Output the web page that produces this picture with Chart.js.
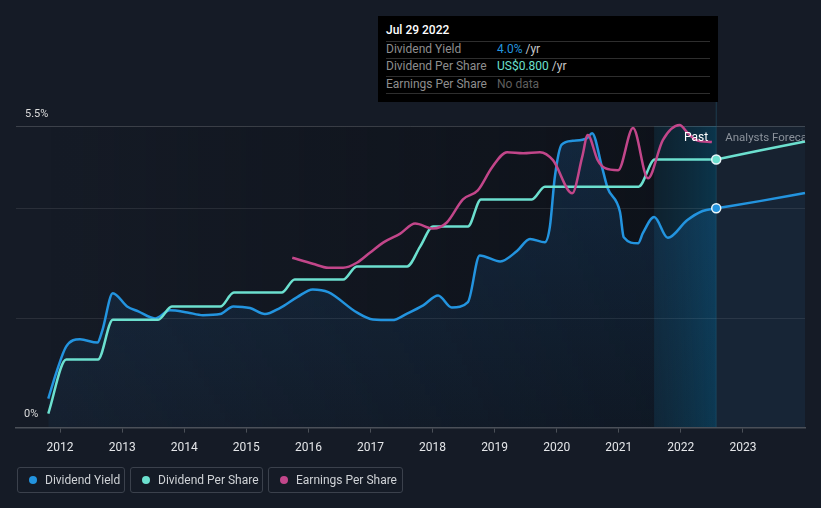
<!DOCTYPE html>
<html>
<head>
<meta charset="utf-8">
<script src="https://cdn.jsdelivr.net/npm/chart.js@4.4.1/dist/chart.umd.min.js"></script>
<style>
  html, body { margin:0; padding:0; background:#151b26; }
  #wrap { position:relative; width:821px; height:508px; font-family:Roboto, "Noto Sans", sans-serif; overflow:hidden; }
  #chart { position:absolute; left:0; top:0; }
  .tip { position:absolute; left:378px; top:16px; width:340px; height:86px; background:#000; }
  .tip .t { position:absolute; left:8px; top:7px; font-size:12px; color:#fff; font-weight:500; }
  .tip .sep { position:absolute; left:8px; width:324px; height:1px; background:#2e2e2e; }
  .tip .row { position:absolute; left:8px; font-size:12px; color:#8e8e8e; white-space:nowrap; }
  .tip .val { position:absolute; left:119px; font-size:12px; white-space:nowrap; }
  .legend { position:absolute; top:467px; height:26px; border:1px solid #3b414c; border-radius:3px; box-sizing:border-box;
            font-size:12px; color:#cfd2d6; line-height:24px; padding-left:27px; }
  .legend i { position:absolute; left:11px; top:8px; width:8px; height:8px; border-radius:50%; }
</style>
</head>
<body>
<div id="wrap">
  <canvas id="chart" width="821" height="508"></canvas>
  <div class="tip">
    <div class="t">Jul 29 2022</div>
    <div class="sep" style="top:25px"></div>
    <div class="row" style="top:26px">Dividend Yield</div>
    <div class="val" style="top:26px"><span style="color:#2394df">4.0%</span><span style="color:#c8c8c8"> /yr</span></div>
    <div class="sep" style="top:42px"></div>
    <div class="row" style="top:43px">Dividend Per Share</div>
    <div class="val" style="top:43px"><span style="color:#6ce0cf">US$0.800</span><span style="color:#c8c8c8"> /yr</span></div>
    <div class="sep" style="top:60px"></div>
    <div class="row" style="top:61px">Earnings Per Share</div>
    <div class="val" style="top:61px;color:#5f5f5f">No data</div>
    <div class="sep" style="top:77px"></div>
  </div>
  <div class="legend" style="left:17px;width:108px"><i style="background:#2394df"></i>Dividend Yield</div>
  <div class="legend" style="left:130px;width:133px"><i style="background:#6ce0cf"></i>Dividend Per Share</div>
  <div class="legend" style="left:268px;width:135px"><i style="background:#c2468a"></i>Earnings Per Share</div>
</div>
<script>
// dividend yield (%), past
const yieldYears = [2011.81, 2011.95, 2012.10, 2012.32, 2012.60, 2012.68, 2012.85, 2013.08, 2013.26, 2013.53,
  2013.77, 2014.05, 2014.30, 2014.58, 2014.79, 2015.06, 2015.30, 2015.54, 2015.82, 2016.07,
  2016.32, 2016.78, 2017.04, 2017.35, 2017.59, 2017.85, 2018.09, 2018.31, 2018.57, 2018.76,
  2019.09, 2019.36, 2019.57, 2019.81, 2019.89, 2019.97, 2020.08, 2020.26, 2020.49, 2020.57,
  2020.73, 2020.82, 2021.02, 2021.08, 2021.31, 2021.39, 2021.57, 2021.79, 2022.10, 2022.35, 2022.57];
const yieldPct = [0.53, 1.04, 1.48, 1.61, 1.55, 1.77, 2.45, 2.21, 2.12, 1.99,
  2.14, 2.10, 2.05, 2.07, 2.21, 2.18, 2.07, 2.18, 2.38, 2.52,
  2.47, 2.10, 1.97, 1.96, 2.08, 2.23, 2.41, 2.19, 2.29, 3.14,
  3.03, 3.22, 3.44, 3.38, 3.66, 4.57, 5.16, 5.23, 5.28, 5.37,
  4.75, 4.37, 3.93, 3.47, 3.36, 3.55, 3.84, 3.46, 3.78, 3.95, 4.00];

// dividend per share (US$), past
const dpsYears = [2011.81, 2012.10, 2012.61, 2012.85, 2013.58, 2013.80, 2014.58, 2014.80, 2015.57, 2015.78,
  2016.56, 2016.78, 2017.59, 2017.80, 2018.01, 2018.57, 2018.78, 2019.60, 2019.81, 2021.32, 2021.58, 2022.57];
const dpsUsd = [0.042, 0.203, 0.203, 0.322, 0.322, 0.361, 0.361, 0.403, 0.403, 0.442,
  0.442, 0.481, 0.481, 0.54, 0.600, 0.600, 0.681, 0.681, 0.719, 0.719, 0.800, 0.800];

// analysts forecast
const fcYears = [2022.57, 2023.27, 2024.0];
const fcYield = [4.00, 4.13, 4.28];
const fcDps = [0.800, 0.827, 0.854];

// earnings per share
const epsYears = [2015.74, 2016.07, 2016.32, 2016.56, 2016.78, 2016.99, 2017.23, 2017.48, 2017.72, 2018.01,
  2018.23, 2018.49, 2018.73, 2018.96, 2019.20, 2019.46, 2019.73, 2019.94, 2020.25, 2020.41,
  2020.50, 2020.66, 2020.78, 2020.99, 2021.23, 2021.47, 2021.71, 2021.98, 2022.11, 2022.25, 2022.50];
const epsUsd = [1.69, 1.63, 1.59, 1.59, 1.64, 1.74, 1.85, 1.93, 2.03, 1.98,
  2.04, 2.27, 2.36, 2.59, 2.74, 2.73, 2.74, 2.66, 2.33, 2.69,
  2.91, 2.66, 2.58, 2.56, 2.98, 2.48, 2.86, 3.01, 2.93, 2.86, 2.84];

const xTicks = [2012, 2013, 2014, 2015, 2016, 2017, 2018, 2019, 2020, 2021, 2022, 2023];
const yGrid = [2, 4, 5.5];
const nowYear = 2022.57;
const bandStart = 2021.57;

const BLUE = '#2394df', TEAL = '#6ce0cf', PINK = '#c2468a';

const pts = (xs, ys) => xs.map((x, i) => ({ x, y: ys[i] }));
const lastDot = n => ctx => ctx.dataIndex === n - 1 ? 4.5 : 0;

// backgrounds, past/forecast split and grid lines
const bgPlugin = {
  id: 'bg',
  beforeDraw(chart) {
    const { ctx, chartArea: a, scales: { x, y } } = chart;
    const x0 = x.getPixelForValue(yieldYears[0]);
    const xb = x.getPixelForValue(bandStart);
    const xn = x.getPixelForValue(nowYear);
    const h = a.bottom - a.top;
    ctx.save();
    let g = ctx.createLinearGradient(x0, 0, xb, 0);
    g.addColorStop(0, 'rgba(6,8,12,0)');
    g.addColorStop(1, 'rgba(6,8,12,0.45)');
    ctx.fillStyle = g;
    ctx.fillRect(x0, a.top, xb - x0, h);
    g = ctx.createLinearGradient(xb, 0, xn, 0);
    g.addColorStop(0, 'rgba(8,42,58,0.45)');
    g.addColorStop(1, 'rgba(8,62,88,0.75)');
    ctx.fillStyle = g;
    ctx.fillRect(xb, a.top, xn - xb, h);
    ctx.fillStyle = '#172230';
    ctx.fillRect(xn, a.top, a.right - xn, h);
    yGrid.forEach(v => {
      const py = Math.round(y.getPixelForValue(v)) + 0.5;
      ctx.strokeStyle = v === 5.5 ? 'rgba(255,255,255,0.17)' : 'rgba(255,255,255,0.09)';
      ctx.lineWidth = 1;
      ctx.beginPath(); ctx.moveTo(a.left, py); ctx.lineTo(a.right, py); ctx.stroke();
    });
    ctx.strokeStyle = 'rgba(40,110,140,0.4)';
    ctx.beginPath(); ctx.moveTo(xn, 100); ctx.lineTo(xn, a.bottom); ctx.stroke();
    ctx.restore();
  },
  afterDatasetsDraw(chart) {
    const { ctx, chartArea: a, scales: { x, y } } = chart;
    const xn = x.getPixelForValue(nowYear);
    ctx.save();
    ctx.font = '11px Roboto, sans-serif';
    ctx.textBaseline = 'middle';
    ctx.fillStyle = '#dcdcdc';
    ctx.fillText('5.5%', 25, y.getPixelForValue(5.5) - 12);
    ctx.fillText('0%', 24, y.getPixelForValue(0) - 13);
    ctx.font = '12px Roboto, sans-serif';
    ctx.fillStyle = '#ffffff';
    ctx.textAlign = 'right';
    ctx.fillText('Past', xn - 8, 138);
    ctx.beginPath(); ctx.rect(a.left, 0, a.right - a.left, a.bottom); ctx.clip();
    ctx.font = '11.5px Roboto, sans-serif';
    ctx.fillStyle = '#8b929b';
    ctx.textAlign = 'left';
    ctx.fillText('Analysts Forecast', xn + 9, 138);
    ctx.restore();
  }
};

const el = document.getElementById('chart');
const g2 = el.getContext('2d');
const fillGrad = g2.createLinearGradient(0, 126, 0, 427);
fillGrad.addColorStop(0, 'rgba(33,120,200,0.2)');
fillGrad.addColorStop(1, 'rgba(33,120,200,0.06)');

const line = (data, color, axis, extra) => Object.assign({
  data, borderColor: color, backgroundColor: color, borderWidth: 2.5, yAxisID: axis,
  cubicInterpolationMode: 'monotone', pointRadius: 0, pointBorderColor: '#eaf6fa',
  pointBorderWidth: 1.5, fill: false, clip: false
}, extra);

new Chart(el, {
  type: 'line',
  data: {
    datasets: [
      line(pts(epsYears, epsUsd), PINK, 'yEps'),
      line(pts(dpsYears, dpsUsd), TEAL, 'yDps', { pointRadius: lastDot(dpsYears.length) }),
      line(pts(fcYears, fcDps), TEAL, 'yDps'),
      line(pts(yieldYears, yieldPct), BLUE, 'y', { pointRadius: lastDot(yieldYears.length), fill: 'origin', backgroundColor: fillGrad, pointBackgroundColor: BLUE }),
      line(pts(fcYears, fcYield), BLUE, 'y', { fill: 'origin', backgroundColor: 'rgba(33,120,200,0.04)' })
    ]
  },
  options: {
    responsive: false,
    animation: false,
    layout: { padding: { left: 16, right: 16, top: 126, bottom: 45 } },
    plugins: { legend: { display: false }, tooltip: { enabled: false } },
    scales: {
      x: {
        type: 'linear', min: 2011.29, max: 2024.0,
        afterBuildTicks: s => { s.ticks = xTicks.map(v => ({ value: v })); },
        ticks: { color: '#e4e6e9', font: { family: 'Roboto', size: 12 }, padding: 8, callback: v => String(v), maxRotation: 0 },
        grid: { drawOnChartArea: false, drawTicks: true, tickLength: 5, color: '#4b5058' },
        border: { color: '#4b5058', width: 1.5 }
      },
      y: { display: false, min: 0, max: 5.5 },
      yDps: { display: false, min: 0, max: 0.9 },
      yEps: { display: false, min: 0, max: 3.0 }
    }
  },
  plugins: [bgPlugin]
});
</script>
</body>
</html>
